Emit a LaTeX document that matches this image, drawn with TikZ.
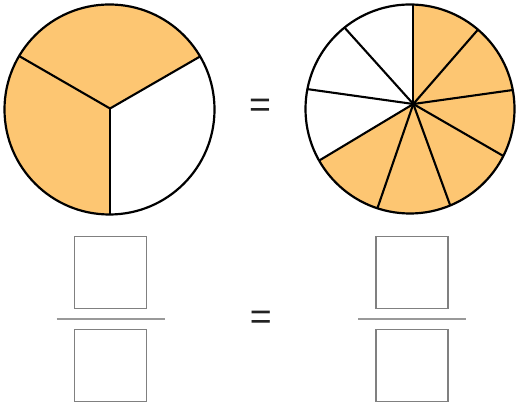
\documentclass[tikz,border=0pt]{standalone}
\usepackage{fontspec}
\setmainfont{Liberation Sans}
\usetikzlibrary{calc}
\definecolor{pieorange}{HTML}{FDC672}
\definecolor{eqgray}{HTML}{222222}
\definecolor{boxgray}{HTML}{808080}
\definecolor{linegray}{HTML}{999999}
\begin{document}
\begin{tikzpicture}[x=1pt,y=1pt,
  spoke/.style={line width=2.1pt,black,line cap=round},
  rim/.style={line width=2.2pt,black},
  ansbox/.style={draw=boxgray,line width=1.6pt,minimum width=72pt,minimum height=72pt,inner sep=0pt},
  fracline/.style={draw=linegray,line width=2pt},
  eqsign/.style={inner sep=0pt,text=eqgray,font=\fontsize{37.5}{40}\selectfont}]
\useasboundingbox (0,0) rectangle (518,406);
% left circle: thirds
\coordinate (LC) at (109.5,296.5);
\coordinate (LP) at (110,297.5);
\begin{scope}
  \clip (LC) circle (105);
  \fill[pieorange] (LP) -- ($(LP)+(30:150)$) -- ($(LP)+(90:150)$) -- ($(LP)+(150:150)$) -- ($(LP)+(210:150)$) -- ($(LP)+(270:150)$) -- cycle;
  \foreach \a in {30,150,270} \draw[spoke] (LP) -- ++(\a:120);
\end{scope}
\draw[rim] (LC) circle (105);
% right circle: ninths
\coordinate (RC) at (410,297);
\coordinate (RP) at (413.3,302);
\begin{scope}
  \clip (RC) circle (104.5);
  \fill[pieorange] (RP) -- ($(RP)+(90:150)$) -- ($(RP)+(49:150)$) -- ($(RP)+(8:150)$) -- ($(RP)+(-30:150)$) -- ($(RP)+(-70:150)$) -- ($(RP)+(-109:150)$) -- ($(RP)+(-149:150)$) -- cycle;
  \foreach \a in {90,49,8,-30,-70,-109,-149,172,132} \draw[spoke] (RP) -- ++(\a:130);
\end{scope}
\draw[rim] (RC) circle (104.5);
\fill[black] (RP) circle (2.4);
% equals signs
\node[eqsign] (eqtop) at (260,297.6) {=};
\node[eqsign] (eqbot) at (260.8,86) {=};
% fractions
\node[ansbox] (ln) at (110.5,133.5) {};
\node[ansbox] (ld) at (110.5,40.5) {};
\node[ansbox] (rn) at (412,133.5) {};
\node[ansbox] (rd) at (412,40.5) {};
\coordinate (lfa) at (56.7,87);
\coordinate (lfb) at (165,87);
\coordinate (rfa) at (358.3,87);
\coordinate (rfb) at (466,87);
\draw[fracline] (lfa) -- (lfb);
\draw[fracline] (rfa) -- (rfb);
\end{tikzpicture}
\end{document}
